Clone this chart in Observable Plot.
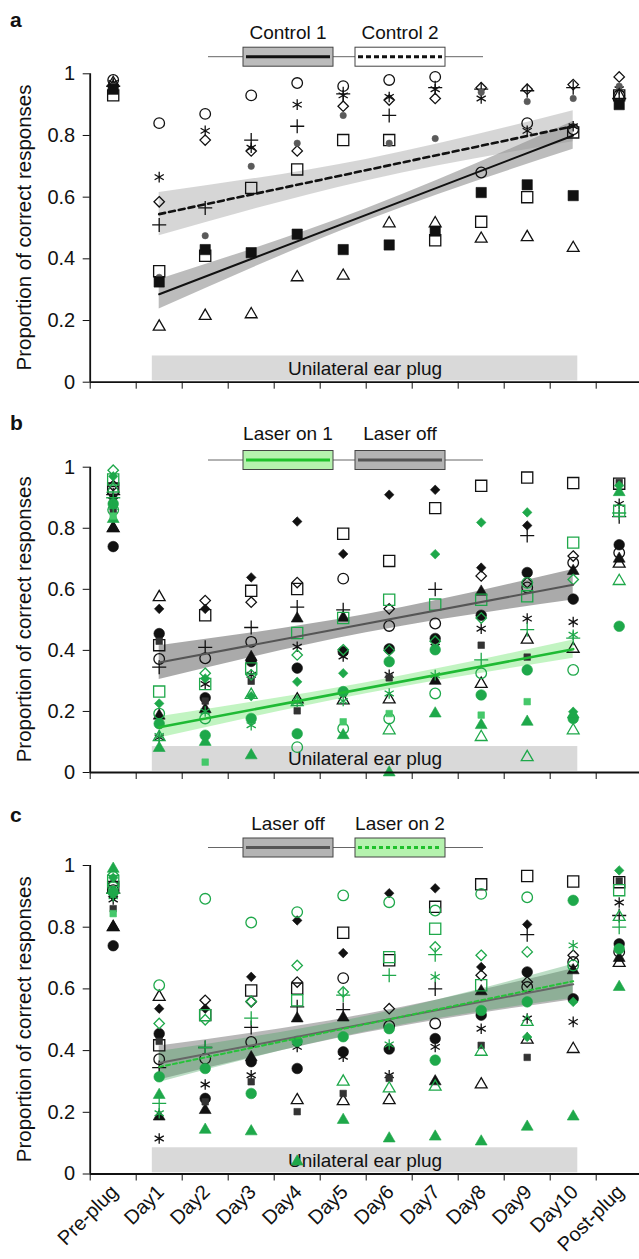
<!DOCTYPE html>
<html>
<head>
<meta charset="utf-8">
<script src="https://cdn.jsdelivr.net/npm/d3@7"></script>
<script src="https://cdn.jsdelivr.net/npm/@observablehq/plot@0.6"></script>
<style>
  body { margin: 0; background: #fff; }
  #root { position: relative; width: 639px; height: 1259px; overflow: hidden; background: #fff;
          font-family: "Liberation Sans", Arial, Helvetica, sans-serif; }
  .panel { position: absolute; left: 0; }
  #overlay { position: absolute; left: 0; top: 0; pointer-events: none; }
</style>
</head>
<body>
<div id="root"></div>
<script>
// ---------------- DATA ----------------
const days = ["Pre-plug","Day1","Day2","Day3","Day4","Day5","Day6","Day7","Day8","Day9","Day10","Post-plug"];
const yTickValues = [0, 0.2, 0.4, 0.6, 0.8, 1];
const plugPeriod = ["Day1", "Day10"];
const plugLabel = "Unilateral ear plug";
const axisTitle = "Proportion of correct responses";

// Panel a – control sessions (one array per animal marker, Pre-plug … Post-plug)
const ctrlOpenCircle   = [0.98, 0.84, 0.87, 0.93, 0.97, 0.96, 0.98, 0.99, 0.68, 0.84, 0.82, 0.93];
const ctrlAsterisk     = [0.97, 0.665,0.815,0.76, 0.90, 0.93, 0.925,0.95, 0.92, 0.815,0.83, 0.95];
const ctrlOpenDiamond  = [0.96, 0.585,0.785,0.75, 0.75, 0.895,0.915,0.92, 0.955,0.95, 0.965,0.99];
const ctrlPlus         = [0.96, 0.51, 0.565,0.785,0.83, 0.935,0.865,0.955,0.95, 0.945,0.955,0.92];
const ctrlOpenSquare   = [0.93, 0.36, 0.41, 0.63, 0.69, 0.785,0.785,0.46, 0.52, 0.60, 0.81, 0.93];
const ctrlDot          = [0.96, 0.34, 0.475,0.70, 0.775,0.865,0.775,0.79, 0.94, 0.91, 0.92, 0.96];
const ctrlFilledSquare = [0.95, 0.325,0.43, 0.42, 0.48, 0.43, 0.445,0.49, 0.615,0.64, 0.605,0.90];
const ctrlOpenTriangle = [0.97, 0.18, 0.215,0.22, 0.34, 0.345,0.515,0.515,0.465,0.47, 0.435,0.93];

// Laser off sessions (black markers, panels b and c)
const offOpenCircle     = [0.92, 0.372,0.374,0.428,null, 0.635,0.48, 0.488,null, 0.606,0.687,0.72];
const offFilledCircle   = [0.74, 0.455,0.245,0.364,0.342,0.396,0.405,0.439,0.515,0.655,0.568,0.746];
const offOpenDiamond    = [0.94, null, 0.563,0.558,0.622,null, 0.536,null, 0.644,0.622,0.709,null];
const offFilledDiamond  = [0.90, 0.536,0.536,0.639,0.822,0.716,0.91, 0.926,0.671,0.809,null, null];
const offOpenSquare     = [0.93, 0.417,0.515,0.595,0.601,0.782,0.693,0.866,0.939,0.966,0.948,0.946];
const offPlus           = [0.91, 0.345,0.41, 0.475,0.542,0.533,null, 0.60, null, 0.776,null, 0.838];
const offAsterisk       = [0.89, 0.115,0.29, 0.32, 0.412,0.38, 0.32, 0.412,0.471,0.504,0.493,0.88];
const offOpenTriangle   = [0.80, 0.574,null, null, 0.239,0.236,0.239,null, 0.29, 0.435,0.405,0.684];
const offFilledTriangle = [0.80, 0.186,0.207,0.378,0.504,0.507,null, 0.30, 0.592,null, 0.66, 0.70];
const offSmallSquare    = [0.86, 0.43, 0.234,0.299,0.202,0.261,0.31, null, 0.417,0.378,null, 0.95];

// Laser on 1 sessions (green markers, panel b)
const on1OpenCircle     = [0.86, 0.193,0.177,null, 0.083,0.144,0.177,0.259,0.325,0.621,0.336,null];
const on1FilledCircle   = [0.88, 0.16, 0.122,0.177,0.127,0.265,0.363,0.402,0.254,0.336,0.177,0.479];
const on1OpenDiamond    = [0.99, null, 0.325,0.32, 0.385,0.402,0.40, 0.43, 0.506,null, 0.632,null];
const on1FilledDiamond  = [0.97, 0.226,0.308,0.25, 0.297,0.325,null, 0.715,0.819,0.852,0.199,0.94];
const on1OpenSquare     = [0.96, 0.265,0.29, 0.341,0.457,0.506,0.566,0.55, 0.566,0.577,0.753,0.857];
const on1Plus           = [0.90, null, null, null, null, null, null, null, 0.369,0.468,0.44, 0.85];
const on1Asterisk       = [0.87, 0.12, 0.20, 0.155,0.232,0.234,0.259,0.319,null, null, 0.451,null];
const on1OpenTriangle   = [0.93, 0.116,null, 0.254,0.23, null, 0.138,null, 0.116,0.05, 0.138,0.627];
const on1FilledTriangle = [0.83, 0.08, 0.10, 0.056,null, 0.122,0.0,  0.193,0.155,0.166,0.19, 0.918];
const on1SmallSquare    = [0.84, null, 0.034,null, null, 0.166,0.193,null, 0.188,0.232,null, null];

// Laser on 2 sessions (green markers, panel c)
const on2OpenCircle     = [0.93, 0.612,0.892,0.815,0.849,0.903,0.881,0.854,0.908,0.897,0.676,null];
const on2FilledCircle   = [0.914,0.315,0.342,0.261,0.43, 0.445,0.471,0.369,0.53, 0.558,0.887,0.73];
const on2OpenDiamond    = [0.97, 0.488,0.50, 0.56, 0.676,0.59, null, 0.736,0.709,0.72, null, null];
const on2FilledDiamond  = [0.96, null, null, null, null, null, null, null, null, 0.444,0.558,0.984];
const on2OpenSquare     = [0.95, null, 0.515,null, 0.563,null, 0.703,0.795,0.612,null, null, 0.92];
const on2Plus           = [0.91, 0.229,0.41, 0.505,null, 0.58, 0.644,0.711,null, null, null, 0.80];
const on2Asterisk       = [0.90, 0.197,null, null, null, null, 0.42, 0.639,null, null, 0.741,null];
const on2OpenTriangle   = [null, null, null, null, null, 0.299,0.277,0.283,0.396,0.493,null, 0.833];
const on2FilledTriangle = [0.989,0.256,0.143,0.138,0.04, 0.175,0.115,0.121,0.105,0.153,0.186,0.606];
const on2SmallSquare    = [0.844,null, null, null, null, null, null, null, null, null, null, null];

// Linear fits (value at Day1, value at Day10) and confidence half-widths (Day1, middle, Day10)
const ctrl1Fit = [0.285, 0.80];  const ctrl1Ci = [0.048, 0.02, 0.045];
const ctrl2Fit = [0.545, 0.83];  const ctrl2Ci = [0.07, 0.035, 0.05];
const offFit   = [0.36, 0.615];  const offCi   = [0.055, 0.03, 0.05];
const on1Fit   = [0.148, 0.404]; const on1Ci   = [0.035, 0.018, 0.03];
const on2Fit   = [0.347, 0.625]; const on2Ci   = [0.05, 0.025, 0.055];

const legendA = ["Control 1", "Control 2"];
const legendB = ["Laser on 1", "Laser off"];
const legendC = ["Laser off", "Laser on 2"];
const panelLetters = ["a", "b", "c"];

// ---------------- STYLE ----------------
const BLACK = "#111", GREEN = "#1ea84a", DOTGREY = "#5a5a5a";
const FONT = '"Liberation Sans", Arial, Helvetica, sans-serif';
const symbolSpec = {
  openCircle:     {symbol: "circle",   filled: false, r: 5.3},
  filledCircle:   {symbol: "circle",   filled: true,  r: 5.3},
  openDiamond:    {symbol: "diamond2", filled: false, r: 4.7},
  filledDiamond:  {symbol: "diamond2", filled: true,  r: 4.3},
  openSquare:     {symbol: "square",   filled: false, r: 6.3},
  filledSquare:   {symbol: "square",   filled: true,  r: 5.8},
  plus:           {symbol: "plus",     filled: false, r: 4.6},
  asterisk:       {symbol: "asterisk", filled: false, r: 5.0},
  openTriangle:   {symbol: "triangle", filled: false, r: 4.4},
  filledTriangle: {symbol: "triangle", filled: true,  r: 4.4},
  dot:            {symbol: "circle",   filled: true,  r: 3.2},
  smallSquare:    {symbol: "square",   filled: true,  r: 3.7}
};

const dayX = d => days.indexOf(d) + 0.5;

function offSeries(color) {
  return [
    [offOpenCircle, "openCircle"], [offFilledCircle, "filledCircle"], [offOpenDiamond, "openDiamond"],
    [offFilledDiamond, "filledDiamond"], [offOpenSquare, "openSquare"], [offPlus, "plus"],
    [offAsterisk, "asterisk"], [offOpenTriangle, "openTriangle"], [offFilledTriangle, "filledTriangle"],
    [offSmallSquare, "smallSquare"]
  ].map(([values, shape]) => ({values, shape, color: shape === "smallSquare" ? "#333" : color}));
}

const panels = [
  { top: 0, height: 400, yTop: 73.3, yBottom: 381.7,
    series: [
      {values: ctrlOpenCircle, shape: "openCircle", color: BLACK},
      {values: ctrlAsterisk, shape: "asterisk", color: BLACK},
      {values: ctrlOpenDiamond, shape: "openDiamond", color: BLACK},
      {values: ctrlPlus, shape: "plus", color: BLACK},
      {values: ctrlOpenSquare, shape: "openSquare", color: BLACK},
      {values: ctrlDot, shape: "dot", color: DOTGREY},
      {values: ctrlFilledSquare, shape: "filledSquare", color: BLACK},
      {values: ctrlOpenTriangle, shape: "openTriangle", color: BLACK}
    ],
    fits: [
      {fit: ctrl2Fit, ci: ctrl2Ci, band: "#c8c8c8", bandOpacity: 0.75, stroke: BLACK, width: 2.6, dash: "6,4"},
      {fit: ctrl1Fit, ci: ctrl1Ci, band: "#8f8f8f", bandOpacity: 0.6, stroke: BLACK, width: 2, dash: null}
    ],
    xLabels: false },
  { top: 400, height: 390, yTop: 466.7, yBottom: 772,
    series: [
      ...offSeries(BLACK),
      {values: on1OpenCircle, shape: "openCircle", color: GREEN},
      {values: on1FilledCircle, shape: "filledCircle", color: GREEN},
      {values: on1OpenDiamond, shape: "openDiamond", color: GREEN},
      {values: on1FilledDiamond, shape: "filledDiamond", color: GREEN},
      {values: on1OpenSquare, shape: "openSquare", color: GREEN},
      {values: on1Plus, shape: "plus", color: GREEN},
      {values: on1Asterisk, shape: "asterisk", color: GREEN},
      {values: on1OpenTriangle, shape: "openTriangle", color: GREEN},
      {values: on1FilledTriangle, shape: "filledTriangle", color: GREEN},
      {values: on1SmallSquare, shape: "smallSquare", color: "#45c86a"}
    ],
    fits: [
      {fit: offFit, ci: offCi, band: "#7d7d7d", bandOpacity: 0.65, stroke: "#555", width: 2, dash: null},
      {fit: on1Fit, ci: on1Ci, band: "#a8f0a8", bandOpacity: 0.7, stroke: "#1fba34", width: 2.6, dash: null}
    ],
    xLabels: false },
  { top: 790, height: 469, yTop: 865, yBottom: 1173.5,
    series: [
      ...offSeries(BLACK),
      {values: on2OpenCircle, shape: "openCircle", color: GREEN},
      {values: on2FilledCircle, shape: "filledCircle", color: GREEN},
      {values: on2OpenDiamond, shape: "openDiamond", color: GREEN},
      {values: on2FilledDiamond, shape: "filledDiamond", color: GREEN},
      {values: on2OpenSquare, shape: "openSquare", color: GREEN},
      {values: on2Plus, shape: "plus", color: GREEN},
      {values: on2Asterisk, shape: "asterisk", color: GREEN},
      {values: on2OpenTriangle, shape: "openTriangle", color: GREEN},
      {values: on2FilledTriangle, shape: "filledTriangle", color: GREEN},
      {values: on2SmallSquare, shape: "smallSquare", color: "#45c86a"}
    ],
    fits: [
      {fit: offFit, ci: offCi, band: "#7d7d7d", bandOpacity: 0.55, stroke: "#666", width: 2, dash: null},
      {fit: on2Fit, ci: on2Ci, band: "#3f9d5a", bandOpacity: 0.35, stroke: "#27c23a", width: 2, dash: "4,3"}
    ],
    xLabels: true }
];

function fitLine(f) {
  return [{x: dayX(plugPeriod[0]), v: f.fit[0]}, {x: dayX(plugPeriod[1]), v: f.fit[1]}];
}
function fitBand(f) {
  const x0 = dayX(plugPeriod[0]), x1 = dayX(plugPeriod[1]);
  const xs = [x0, (x0 + x1) / 2, x1];
  return xs.map((x, i) => {
    const v = f.fit[0] + (f.fit[1] - f.fit[0]) * (x - x0) / (x1 - x0);
    return {x, lo: v - f.ci[i], hi: v + f.ci[i]};
  });
}

function makePanel(p) {
  const marks = [];
  marks.push(Plot.rect([plugPeriod], {
    x1: d => dayX(d[0]) - 0.15, x2: d => dayX(d[1]) + 0.1,
    y1: () => 0.004, y2: () => 0.085, fill: "#d9d9d9"
  }));
  marks.push(Plot.text([plugLabel], {
    x: () => (dayX(plugPeriod[0]) - 0.15 + dayX(plugPeriod[1]) + 0.1) / 2, y: () => 0.043,
    text: d => d, fontSize: 19, fill: "#111"
  }));
  for (const f of p.fits) {
    marks.push(Plot.areaY(fitBand(f), {x: "x", y1: "lo", y2: "hi", fill: f.band, fillOpacity: f.bandOpacity, curve: "natural"}));
  }
  for (const s of p.series) {
    const spec = symbolSpec[s.shape];
    const rows = s.values.map((v, i) => ({x: i + 0.5, v})).filter(d => d.v != null);
    marks.push(Plot.dot(rows, {
      x: "x", y: "v", symbol: spec.symbol, r: spec.r,
      fill: spec.filled ? s.color : "none", stroke: s.color,
      strokeWidth: spec.filled ? 0.6 : 1.3
    }));
  }
  for (const f of p.fits) {
    marks.push(Plot.line(fitLine(f), {x: "x", y: "v", stroke: f.stroke, strokeWidth: f.width, strokeDasharray: f.dash || undefined}));
  }
  marks.push(Plot.ruleX([0], {y1: () => 0, y2: () => 1, stroke: BLACK, strokeWidth: 1.8}));
  marks.push(Plot.ruleY([0], {x1: () => 0, x2: () => days.length, stroke: BLACK, strokeWidth: 1.8}));
  if (p.xLabels) {
    marks.push(Plot.text(days, {
      x: (d, i) => i + 0.5, y: () => 0, text: d => d,
      rotate: -45, textAnchor: "end", lineAnchor: "top", dx: -4, dy: 9, fontSize: 20, fill: "#111"
    }));
  }
  return Plot.plot({
    width: 639, height: p.height,
    marginTop: p.yTop - p.top, marginBottom: p.top + p.height - p.yBottom,
    marginLeft: 89.7, marginRight: 0,
    style: {fontFamily: FONT, fontSize: "20px", color: "#111", background: "transparent", overflow: "visible"},
    x: {domain: [0, days.length], range: [89.7, 641.7], ticks: d3.range(0, days.length), tickFormat: () => "", tickSize: 7, label: null},
    y: {domain: [0, 1], ticks: yTickValues, tickFormat: d => String(d), tickSize: 7, tickPadding: 8, label: null},
    marks
  });
}

const root = document.getElementById("root");
panels.forEach(p => {
  const div = document.createElement("div");
  div.className = "panel";
  div.style.top = p.top + "px";
  div.appendChild(makePanel(p));
  root.appendChild(div);
});

// ---------------- Overlay: panel letters, axis titles and legends ----------------
const overlay = d3.select(root).append("svg").attr("id", "overlay")
  .attr("width", 639).attr("height", 1259).style("font-family", FONT);

const legendSpecs = [
  {letterY: 27, textY: 39, boxY: 56.7, entries: [
    {label: legendA[0], fill: "#bcbcbc", line: BLACK, dash: null},
    {label: legendA[1], fill: "#ffffff", line: BLACK, dash: "5,3"}]},
  {letterY: 430, textY: 440, boxY: 460, entries: [
    {label: legendB[0], fill: "#b5f2ae", line: "#1fc12b", dash: null},
    {label: legendB[1], fill: "#b4b4b4", line: "#555", dash: null}]},
  {letterY: 822, textY: 830, boxY: 847.5, entries: [
    {label: legendC[0], fill: "#b4b4b4", line: "#555", dash: null},
    {label: legendC[1], fill: "#b5f2ae", line: "#1fc12b", dash: "4,3"}]}
];
const boxX = [[243, 333], [355, 445]];
legendSpecs.forEach((L, k) => {
  const p = panels[k];
  overlay.append("text").attr("x", 10).attr("y", L.letterY).attr("font-size", 21)
    .attr("font-weight", "bold").attr("fill", "#111").text(panelLetters[k]);
  const cy = (p.yTop + p.yBottom) / 2;
  overlay.append("text").attr("transform", `translate(31,${cy}) rotate(-90)`)
    .attr("text-anchor", "middle").attr("font-size", 20.5).attr("fill", "#111").text(axisTitle);
  overlay.append("line").attr("x1", 208).attr("x2", 483).attr("y1", L.boxY).attr("y2", L.boxY)
    .attr("stroke", "#666").attr("stroke-width", 1);
  L.entries.forEach((e, j) => {
    const [a, b] = boxX[j];
    overlay.append("rect").attr("x", a).attr("y", L.boxY - 9.5).attr("width", b - a).attr("height", 19)
      .attr("fill", e.fill).attr("stroke", "#444").attr("stroke-width", 1);
    overlay.append("line").attr("x1", a + 3).attr("x2", b - 3).attr("y1", L.boxY).attr("y2", L.boxY)
      .attr("stroke", e.line).attr("stroke-width", 3).attr("stroke-dasharray", e.dash);
    overlay.append("text").attr("x", (a + b) / 2).attr("y", L.textY).attr("text-anchor", "middle")
      .attr("font-size", 19).attr("fill", "#111").text(e.label);
  });
});
</script>
</body>
</html>
